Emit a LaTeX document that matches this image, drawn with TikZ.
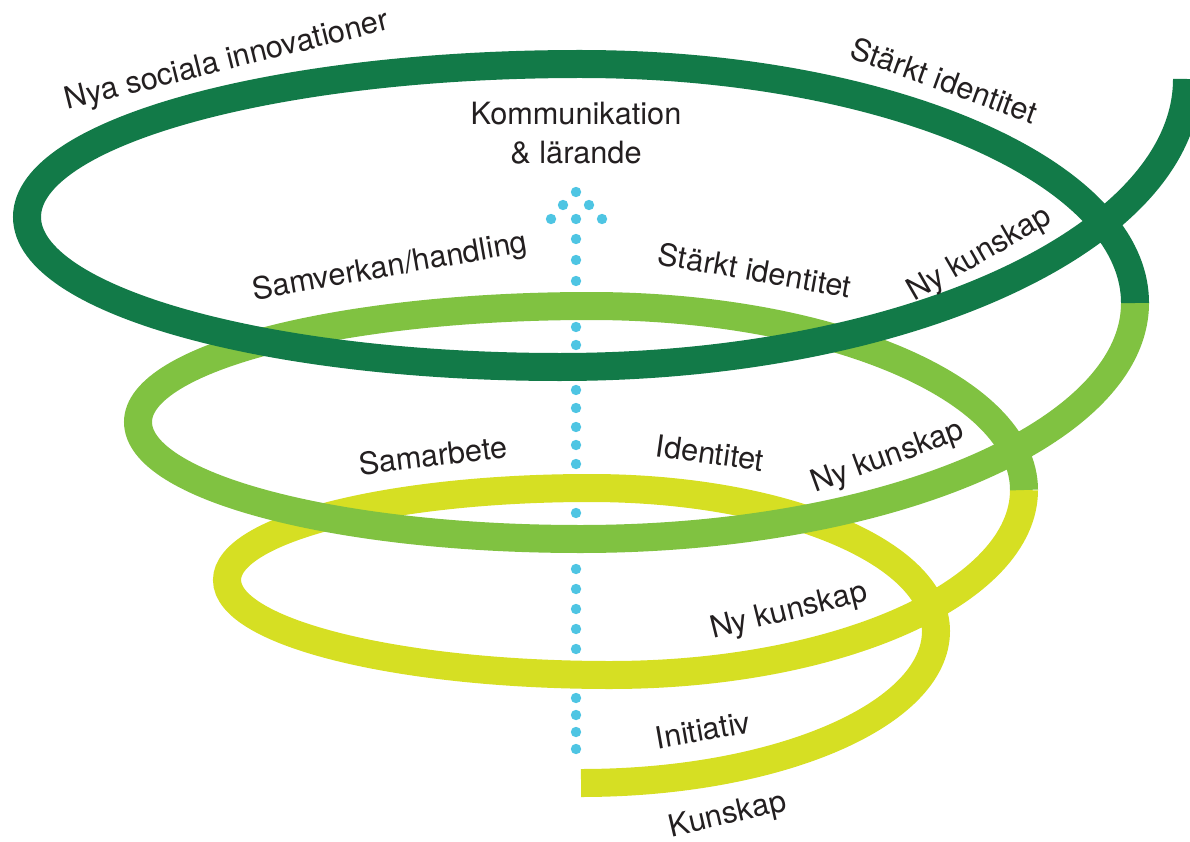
\documentclass[tikz,border=0pt]{standalone}
\usepackage{fontspec}
\setmainfont{TeX Gyre Heros}
\definecolor{darkband}{HTML}{127A48}
\definecolor{midband}{HTML}{80C241}
\definecolor{lowband}{HTML}{D6DF23}
\definecolor{dotblue}{HTML}{4EC5E3}
\definecolor{labelgray}{HTML}{231F20}

\begin{document}
\begin{tikzpicture}[x=1pt, y=-1pt,
  band/.style={line width=28pt, line cap=butt},
  lbl/.style={text=labelgray, inner sep=0pt, font=\fontsize{30.7}{39}\selectfont}]
\useasboundingbox (0,0) rectangle (1190,842);
\clip (0,0) rectangle (1190,842);

% Dotted arrow up the middle
\foreach \y in {239,260,281,327,345,390,408,427,445,464,513,569,589,609,629,649,698,715,732,749}
  \fill[dotblue] (576,\y) circle (5.2);
\fill[dotblue] (576,192) circle (5.2) (563,205) circle (5.2) (589,205) circle (5.2)
  (551,219) circle (5.2) (576,219) circle (5.2) (602,219) circle (5.2);

% Lowest turn of the spiral
\draw[band, lowband] (581,783)
  arc[start angle=90, end angle=0, x radius=355, y radius=152]
  arc[start angle=0, end angle=-90, x radius=346, y radius=143]
  arc[start angle=-90, end angle=-180, x radius=363, y radius=92]
  arc[start angle=180, end angle=90, x radius=383, y radius=95]
  arc[start angle=90, end angle=0, x radius=414, y radius=185];

% Middle turn
\draw[band, midband] (1024,490)
  arc[start angle=0, end angle=-90, x radius=434, y radius=184]
  arc[start angle=-90, end angle=-180, x radius=452, y radius=116]
  arc[start angle=180, end angle=90, x radius=442, y radius=117]
  arc[start angle=90, end angle=0, x radius=555, y radius=236];

% Top turn
\draw[band, darkband] (1135,303)
  arc[start angle=0, end angle=-90, x radius=555, y radius=239]
  arc[start angle=-90, end angle=-180, x radius=553, y radius=153]
  arc[start angle=180, end angle=90, x radius=533, y radius=150]
  arc[start angle=90, end angle=0, x radius=627, y radius=288];

% Labels
\node[lbl, rotate=14] (innov) at (227,62) {Nya sociala innovationer};
\node[lbl, rotate=-20] (ident3) at (944,80) {Stärkt identitet};
\node[lbl, align=center] (komm) at (576,133) {Kommunikation\\\& lärande};
\node[lbl, rotate=10] (samverk) at (390,268) {Samverkan/handling};
\node[lbl, rotate=-10] (ident2) at (755,270) {Stärkt identitet};
\node[lbl, rotate=30] (nyk3) at (980,255) {Ny kunskap};
\node[lbl, rotate=7] (samarb) at (433,455) {Samarbete};
\node[lbl, rotate=-8] (ident1) at (710,453) {Identitet};
\node[lbl, rotate=20] (nyk2) at (888,458) {Ny kunskap};
\node[lbl, rotate=14] (nyk1) at (789,612) {Ny kunskap};
\node[lbl, rotate=10] (init) at (703,730) {Initiativ};
\node[lbl, rotate=13] (kunsk) at (728,816) {Kunskap};

\end{tikzpicture}
\end{document}
